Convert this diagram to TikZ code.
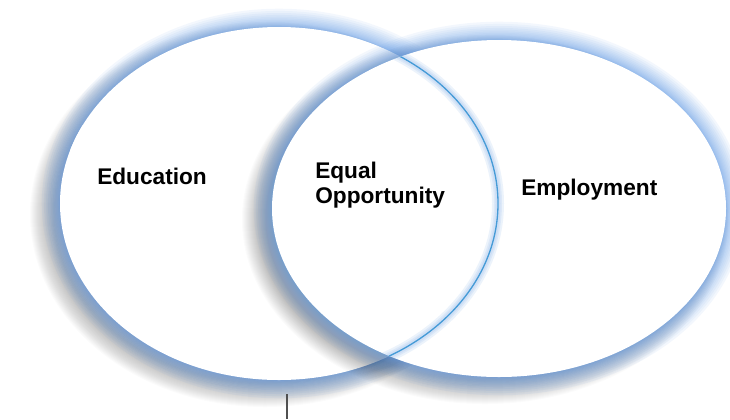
\documentclass[tikz,border=0pt]{standalone}
\usepackage{fontspec}
\setmainfont{Liberation Sans}
\definecolor{glowblue}{RGB}{105,158,228}
\definecolor{edgeblue}{RGB}{70,155,215}
\definecolor{tickgray}{RGB}{80,80,80}
\begin{document}
\begin{tikzpicture}[x=0.75pt,y=-0.75pt,
  lbl/.style={font=\bfseries\fontsize{17}{20}\selectfont, inner sep=0pt, anchor=base west, text=black}]
\useasboundingbox (0,0) rectangle (730,419);
\clip (0,0) rectangle (730,419);
\coordinate (cL) at (279,203.5);
\coordinate (cR) at (499,208.5);
% ---- left ellipse: shadow, glow, body
\foreach \i in {0,...,24}
  \fill[black,opacity=0.014] ([shift={(-14,11)}]cL) ellipse [x radius=211+\i, y radius=168.5+\i];
\foreach \k in {1,...,16}
  \fill[glowblue,opacity=0.08] (cL) ellipse [x radius=219+\k*\k/14, y radius=176.5+\k*\k/14];
\fill[white] (cL) ellipse [x radius=219, y radius=176.5];
% ---- right ellipse: shadow, glow, body
\foreach \i in {0,...,24}
  \fill[black,opacity=0.014] ([shift={(-14,11)}]cR) ellipse [x radius=219+\i, y radius=160.5+\i];
\foreach \k in {1,...,16}
  \fill[glowblue,opacity=0.08] (cR) ellipse [x radius=227+\k*\k/14, y radius=168.5+\k*\k/14];
\fill[white] (cR) ellipse [x radius=227, y radius=168.5];
% ---- left outline seen through the right ellipse
\begin{scope}
  \clip (cR) ellipse [x radius=227, y radius=168.5];
  \foreach \w in {12,8,5}
    \draw[glowblue,opacity=0.12,line width=\w*0.75pt] (cL) ellipse [x radius=219, y radius=176.5];
  \draw[edgeblue,line width=1pt] (cL) ellipse [x radius=219, y radius=176.5];
\end{scope}
% ---- white box behind Education
\begin{scope}
  \clip (cL) ellipse [x radius=219, y radius=176.5];
  \fill[white] (70,125) rectangle (239,207);
\end{scope}
% ---- labels
\node[lbl] (edu) at (97,184) {Education};
\node[lbl] (eq1) at (315,178) {Equal};
\node[lbl] (eq2) at (315,203) {Opportunity};
\node[lbl] (emp) at (521,195) {Employment};
% ---- small tick at bottom
\coordinate (t1) at (287,394);
\coordinate (t2) at (287,419);
\draw[tickgray,line width=0.8pt] (t1) -- (t2);
\end{tikzpicture}
\end{document}
